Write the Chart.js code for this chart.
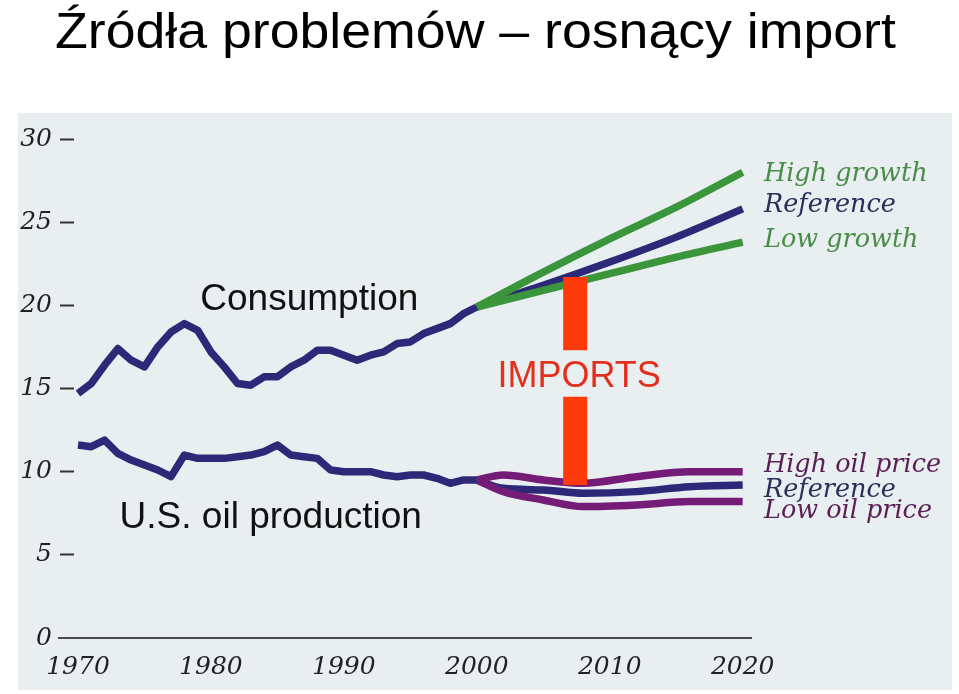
<!DOCTYPE html>
<html>
<head>
<meta charset="utf-8">
<script src="https://cdn.jsdelivr.net/npm/chart.js@4"></script>
<style>
  html, body { margin: 0; padding: 0; background: #fff; }
  #wrap { width: 959px; height: 694px; position: relative; }
  #title {
    position: absolute; left: 55px; top: 6px; margin: 0;
    font-family: "Liberation Sans", Arial, sans-serif; font-weight: normal;
    font-size: 50px; line-height: 50px; color: #000; white-space: nowrap;
    transform: scaleX(1.073); transform-origin: 0 0; z-index: 2;
  }
</style>
</head>
<body>
<div id="wrap">
  <h1 id="title">Źródła problemów – rosnący import</h1>
  <canvas id="oilChart"></canvas>
</div>
<script>
// historical data, million barrels per day
var histYears = [1970, 1971, 1972, 1973, 1974, 1975, 1976, 1977, 1978, 1979,
                 1980, 1981, 1982, 1983, 1984, 1985, 1986, 1987, 1988, 1989,
                 1990, 1991, 1992, 1993, 1994, 1995, 1996, 1997, 1998, 1999, 2000];
var consumption = [14.7, 15.3, 16.4, 17.4, 16.7, 16.3, 17.5, 18.4, 18.9, 18.5,
                   17.2, 16.3, 15.3, 15.2, 15.7, 15.7, 16.3, 16.7, 17.3, 17.3,
                   17.0, 16.7, 17.0, 17.2, 17.7, 17.8, 18.3, 18.6, 18.9, 19.5, 19.9];
var production = [11.6, 11.5, 11.9, 11.1, 10.7, 10.4, 10.1, 9.7, 11.0, 10.8,
                  10.8, 10.8, 10.9, 11.0, 11.2, 11.6, 11.0, 10.9, 10.8, 10.1,
                  10.0, 10.0, 10.0, 9.8, 9.7, 9.8, 9.8, 9.6, 9.3, 9.5, 9.5];

// consumption projections
var consProjYears = [2000, 2005, 2010, 2015, 2020];
var highGrowth = [19.9, 22.0, 24.0, 25.9, 28.0];
var refGrowth  = [19.9, 21.2, 22.6, 24.1, 25.8];
var lowGrowth  = [19.9, 20.9, 21.9, 22.9, 23.8];

// production projections
var prodProjYears = [2000, 2002, 2005, 2008, 2012, 2016, 2020];
var highPrice = [9.5, 9.8, 9.5, 9.3, 9.7, 10.0, 10.0];
var refPrice  = [9.5, 9.0, 8.9, 8.7, 8.8, 9.1, 9.2];
var lowPrice  = [9.5, 8.8, 8.3, 7.9, 8.0, 8.2, 8.2];

// imports bar (gap where the label sits)
var importsYear = 2007.4;
var importsLevels = [9.2, 14.5, null, 17.3, 21.7];

var yTicks = [0, 5, 10, 15, 20, 25, 30];
var xTicks = [1970, 1980, 1990, 2000, 2010, 2020];

var navy = '#2c2a78';
var green = '#3b953b';
var purple = '#741c78';

function pts(xs, ys) {
  return xs.map(function (x, i) { return { x: x, y: ys[i] }; });
}

function lineSet(label, xs, ys, color, extra) {
  var ds = {
    label: label,
    data: pts(xs, ys),
    borderColor: color,
    backgroundColor: color,
    borderWidth: 7.5,
    pointRadius: 0,
    fill: false,
    clip: false,
    borderJoinStyle: 'round',
    borderCapStyle: 'butt'
  };
  for (var k in extra) ds[k] = extra[k];
  return ds;
}

var serifLbl = 'italic 25.5px "DejaVu Serif"';
var textLabels = [
  { text: 'Consumption', x: 1987.4, y: 19.7, font: '37px "Liberation Sans"', color: '#111', align: 'center' },
  { text: 'U.S. oil production', x: 1984.5, y: 6.6, font: '37px "Liberation Sans"', color: '#111', align: 'center' },
  { text: 'IMPORTS', x: 2007.7, y: 15.1, font: '36px "Liberation Sans"', color: '#e2301c', align: 'center' },
  { text: 'High growth', x: 2021.6, y: 27.5, font: serifLbl, color: '#4a8c4a', align: 'left' },
  { text: 'Reference', x: 2021.6, y: 25.6, font: serifLbl, color: '#2d2d5a', align: 'left' },
  { text: 'Low growth', x: 2021.6, y: 23.5, font: serifLbl, color: '#4a8c4a', align: 'left' },
  { text: 'High oil price', x: 2021.6, y: 10.0, font: serifLbl, color: '#5a1f55', align: 'left' },
  { text: 'Reference', x: 2021.6, y: 8.5, font: serifLbl, color: '#2d2d5a', align: 'left' },
  { text: 'Low oil price', x: 2021.6, y: 7.2, font: serifLbl, color: '#5a1f55', align: 'left' }
];

var decor = {
  id: 'decor',
  beforeDraw: function (chart) {
    var c = chart.ctx;
    c.save();
    c.fillStyle = '#ffffff';
    c.fillRect(0, 0, chart.width, chart.height);
    c.fillStyle = '#e9eff0';
    c.fillRect(18, 113, 934, 577);
    c.restore();
  },
  beforeDatasetsDraw: function (chart) {
    var c = chart.ctx, xs = chart.scales.x, ys = chart.scales.y;
    var y0 = ys.getPixelForValue(0);
    c.save();
    c.strokeStyle = '#4a4a4a';
    c.lineWidth = 2;
    c.beginPath();
    c.moveTo(xs.left - 16, y0);
    c.lineTo(xs.right, y0);
    c.stroke();
    c.restore();
  },
  afterDatasetsDraw: function (chart) {
    var c = chart.ctx, xs = chart.scales.x, ys = chart.scales.y;
    c.save();
    c.textBaseline = 'alphabetic';
    textLabels.forEach(function (l) {
      c.font = l.font;
      c.fillStyle = l.color;
      c.textAlign = l.align;
      c.fillText(l.text, xs.getPixelForValue(l.x), ys.getPixelForValue(l.y));
    });
    c.restore();
  }
};

var ctx = document.getElementById('oilChart').getContext('2d');

var myChart = new Chart(ctx, {
  type: 'line',
  data: {
    datasets: [
      lineSet('Imports', importsLevels.map(function () { return importsYear; }), importsLevels, '#ff3a0a',
              { borderWidth: 24, spanGaps: false, order: -2 }),
      lineSet('Consumption', histYears, consumption, navy),
      lineSet('High growth', consProjYears, highGrowth, green, { cubicInterpolationMode: 'monotone' }),
      lineSet('Low growth', consProjYears, lowGrowth, green, { cubicInterpolationMode: 'monotone' }),
      lineSet('Reference', consProjYears, refGrowth, navy, { cubicInterpolationMode: 'monotone' }),
      lineSet('U.S. oil production', histYears, production, navy),
      lineSet('High oil price', prodProjYears, highPrice, purple, { cubicInterpolationMode: 'monotone' }),
      lineSet('Low oil price', prodProjYears, lowPrice, purple, { cubicInterpolationMode: 'monotone' }),
      lineSet('Reference price', prodProjYears, refPrice, navy, { cubicInterpolationMode: 'monotone' })
    ]
  },
  options: {
    responsive: true,
    maintainAspectRatio: false,
    animation: false,
    layout: { padding: { left: 0, right: 207, top: 139, bottom: 0 } },
    plugins: {
      legend: { display: false },
      tooltip: { enabled: false },
      title: { display: false }
    },
    scales: {
      x: {
        type: 'linear',
        min: 1969.7,
        max: 2020.7,
        afterBuildTicks: function (scale) {
          scale.ticks = xTicks.map(function (v) { return { value: v }; });
        },
        afterFit: function (scale) { scale.height = 56; },
        grid: { display: false, drawTicks: false },
        border: { display: false },
        ticks: {
          padding: 14,
          color: '#222',
          font: { family: '"DejaVu Serif"', style: 'italic', size: 25 },
          callback: function (v) { return String(v); }
        }
      },
      y: {
        min: 0,
        max: 30,
        afterBuildTicks: function (scale) {
          scale.ticks = yTicks.map(function (v) { return { value: v }; });
        },
        afterFit: function (scale) { scale.width = 74; },
        border: { display: false },
        grid: {
          drawOnChartArea: false,
          drawTicks: true,
          tickLength: 14,
          tickWidth: 2,
          tickColor: function (c) { return c.tick && c.tick.value === 0 ? 'rgba(0,0,0,0)' : '#333'; }
        },
        ticks: {
          padding: 8,
          color: '#222',
          font: { family: '"DejaVu Serif"', style: 'italic', size: 25 }
        }
      }
    }
  },
  plugins: [decor]
});
</script>
</body>
</html>
